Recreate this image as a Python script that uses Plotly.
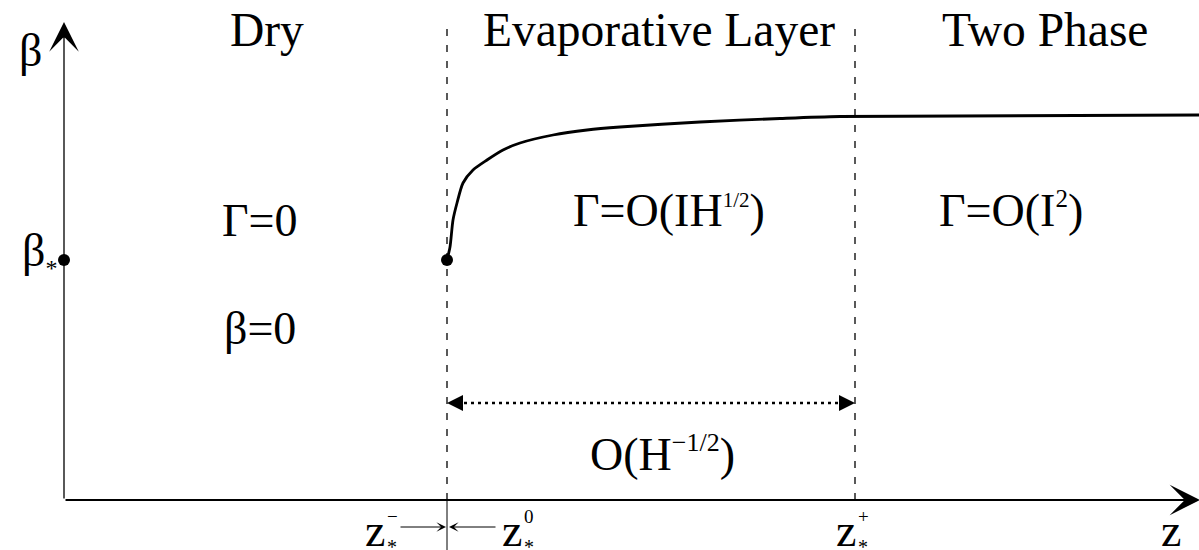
import plotly.graph_objects as go

# Schematic coordinates: z along the horizontal axis, beta up the vertical axis
z_zero = 383          # z*^0, start of the evaporative layer
z_plus = 791          # z*^+, start of the two-phase region
beta_star = 240       # beta* value where the profile starts
z_end = 1136          # end of the z axis
beta_top = 478        # top of the beta axis

# Saturation profile through the evaporative layer and two-phase region
z_curve = [383, 386, 389, 393, 399, 409, 423, 439, 456, 489, 523, 556, 636, 716, 776, 1135]
beta_curve = [240, 253, 280, 297, 317, 330, 340, 350, 357, 365, 370, 373, 378, 381.5, 383.5, 385]

# Region titles and their centres
region_names = ["Dry", "Evaporative Layer", "Two Phase"]
region_z = [203, 595, 981]

# Boundary labels along the z axis: (centre of the letter, superscript)
z_marks = [311, 448, 782]
z_sups = ["−", "0", "+"]

FONT = "Liberation Serif, Times New Roman, serif"
BIG = 46

fig = go.Figure()

fig.add_trace(go.Scatter(
    x=z_curve, y=beta_curve, mode="lines",
    line=dict(color="black", width=2.8, shape="spline", smoothing=0.7),
    hoverinfo="skip"))

fig.add_trace(go.Scatter(
    x=[0, z_zero], y=[beta_star, beta_star], mode="markers",
    marker=dict(color="black", size=12), hoverinfo="skip"))

# Dotted span of the evaporative layer thickness
fig.add_trace(go.Scatter(
    x=[z_zero + 10, z_plus - 10], y=[97, 97], mode="lines",
    line=dict(color="black", width=2.5, dash="3px,4px"), hoverinfo="skip"))

shapes = []
for zb in (z_zero, z_plus):
    shapes.append(dict(type="line", x0=zb, x1=zb, y0=0, y1=478, xref="x", yref="y",
                       line=dict(color="black", width=1.3, dash="7px,9px")))
shapes.append(dict(type="line", x0=z_zero, x1=z_zero, y0=0, y1=-50, xref="x", yref="y",
                   line=dict(color="black", width=1)))

ann = []


def text(x, y, s, size=BIG, xanchor="center", yanchor="middle"):
    ann.append(dict(x=x, y=y, xref="x", yref="y", text=s, showarrow=False,
                    xanchor=xanchor, yanchor=yanchor,
                    font=dict(family=FONT, size=size, color="black")))


def arrow(x, y, ax, ay, head=3, width=1.5, size=2.2):
    ann.append(dict(x=x, y=y, ax=ax, ay=ay, xref="x", yref="y", axref="x", ayref="y",
                    text="", showarrow=True, arrowhead=head, arrowwidth=width,
                    arrowsize=size, arrowcolor="black"))


# Axes with arrowheads
arrow(0, beta_top, 0, 0, head=3, width=1.3, size=3.8)
arrow(z_end, 0, 0, 0, head=3, width=2.2, size=2.3)

# Dotted double arrow heads
arrow(z_zero, 97, z_zero + 14, 97, head=2, width=2, size=1.6)
arrow(z_plus, 97, z_plus - 14, 97, head=2, width=2, size=1.6)

# Small arrows pointing at the z*^0 boundary
arrow(z_zero - 1, -27, z_zero - 48, -27, head=3, width=1, size=1.6)
arrow(z_zero + 2, -27, z_zero + 50, -27, head=3, width=1, size=1.6)

for name, zc in zip(region_names, region_z):
    text(zc, 470, name, size=47.5)

text(-34, 450, "β")
text(-44, 247, "β<sub><span style='font-size:24px'>*</span></sub>", xanchor="left")

text(196, 280, "Γ=0")
text(196, 172, "β=0")
text(605, 290, "Γ=O(IH<sup><span style='font-size:21px'>1/2</span></sup>)")
text(947, 290, "Γ=O(I<sup><span style='font-size:25px'>2</span></sup>)")
text(598, 46, "O(H<sup><span style='font-size:26px'>−1/2</span></sup>)")

for zc, sup in zip(z_marks, z_sups):
    text(zc, -30, "z", size=46)
    text(zc + 10, -47, "*", size=20, xanchor="left")
    text(zc + 10, -16, sup, size=19, xanchor="left")
text(1107, -30, "z", size=46)

fig.update_layout(
    width=1199, height=550,
    margin=dict(l=0, r=0, t=0, b=0),
    paper_bgcolor="white", plot_bgcolor="white",
    showlegend=False,
    xaxis=dict(range=[-64, 1135], visible=False, fixedrange=True),
    yaxis=dict(range=[-50, 500], visible=False, fixedrange=True),
    shapes=shapes, annotations=ann,
)

fig.write_html("out.html")
